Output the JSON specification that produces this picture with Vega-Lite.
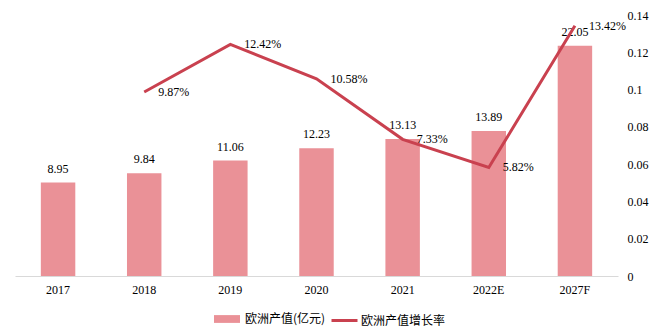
{
  "$schema": "https://vega.github.io/schema/vega-lite/v6.json",
  "width": 603,
  "height": 261,
  "autosize": {"type": "none"},
  "padding": {"left": 15, "top": 15, "right": 40, "bottom": 59},
  "background": "white",
  "config": {
    "view": {"stroke": null},
    "axis": {"grid": false, "labelFont": "Liberation Serif", "labelFontSize": 12, "labelColor": "#000000"},
    "legend": {"labelFont": "Noto Sans CJK SC", "labelFontSize": 12, "labelColor": "#000000"}
  },
  "data": {
    "values": [
      {"year": "2017", "value": 8.95, "growth": null, "glabel": ""},
      {"year": "2018", "value": 9.84, "growth": 0.0987, "glabel": "9.87%"},
      {"year": "2019", "value": 11.06, "growth": 0.1242, "glabel": "12.42%"},
      {"year": "2020", "value": 12.23, "growth": 0.1058, "glabel": "10.58%"},
      {"year": "2021", "value": 13.13, "growth": 0.0733, "glabel": "7.33%"},
      {"year": "2022E", "value": 13.89, "growth": 0.0582, "glabel": "5.82%"},
      {"year": "2027F", "value": 22.05, "growth": 0.1342, "glabel": "13.42%"}
    ]
  },
  "encoding": {
    "x": {
      "field": "year", "type": "ordinal", "sort": null,
      "scale": {"paddingInner": 0.6, "paddingOuter": 0.3},
      "axis": {"title": null, "labelAngle": 0, "ticks": false, "domainColor": "#D9D9D9", "labelPadding": 8}
    }
  },
  "layer": [
    {
      "encoding": {
        "y": {"field": "value", "type": "quantitative", "scale": {"domain": [0, 25]}, "axis": null}
      },
      "layer": [
        {
          "mark": {"type": "bar"},
          "encoding": {
            "color": {
              "datum": "欧洲产值(亿元)",
              "scale": {"range": ["#EA9197"]},
              "legend": {"orient": "none", "legendX": 199, "legendY": 291, "title": null,
                "symbolType": "M-1,-0.3H1V0.3H-1Z", "symbolSize": 676, "symbolStrokeWidth": 0, "labelOffset": 5}
            }
          }
        },
        {
          "mark": {"type": "text", "baseline": "bottom", "dy": -7, "font": "Liberation Serif", "fontSize": 12, "color": "#000000"},
          "encoding": {"text": {"field": "value", "type": "quantitative", "format": ".2f"}}
        }
      ]
    },
    {
      "encoding": {
        "y": {
          "field": "growth", "type": "quantitative", "scale": {"domain": [0, 0.14]},
          "axis": {"orient": "right", "title": null, "values": [0, 0.02, 0.04, 0.06, 0.08, 0.1, 0.12, 0.14], "format": ".2~f", "ticks": false, "domain": false, "labelPadding": 9}
        }
      },
      "layer": [
        {
          "mark": {"type": "line", "strokeWidth": 3},
          "encoding": {
            "color": {
              "datum": "欧洲产值增长率",
              "scale": {"range": ["#C9414F"]},
              "legend": {"orient": "none", "legendX": 315, "legendY": 291, "title": null,
                "symbolType": "stroke", "symbolSize": 676, "symbolStrokeWidth": 3, "labelOffset": 2}
            }
          }
        },
        {
          "mark": {"type": "text", "align": "left", "baseline": "middle", "dx": 14, "font": "Liberation Serif", "fontSize": 12, "color": "#000000"},
          "encoding": {"text": {"field": "glabel"}}
        }
      ]
    }
  ],
  "resolve": {"scale": {"y": "independent", "color": "independent"}}
}
